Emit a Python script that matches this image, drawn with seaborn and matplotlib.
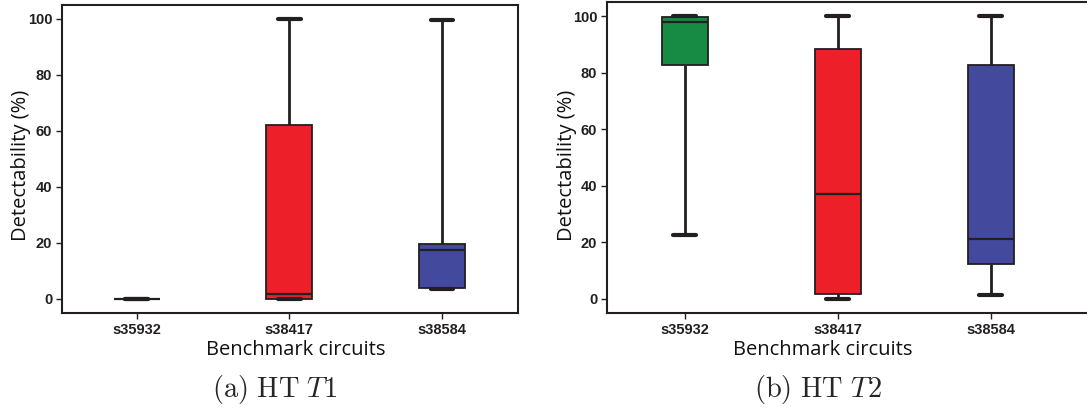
import numpy as np
import pandas as pd
import matplotlib
matplotlib.use("Agg")
import matplotlib.pyplot as plt
import seaborn as sns

circuits = ["s35932", "s38417", "s38584"]
box_colors = ["#178a43", "#ed1f29", "#434a9e"]
y_ticks = [0, 20, 40, 60, 80, 100]

# five-number summaries (min, q1, median, q3, max)
t1_min = [0.0, 0.0, 3.5]
t1_q1 = [0.0, 0.0, 3.8]
t1_med = [0.0, 1.8, 17.5]
t1_q3 = [0.0, 62.0, 19.8]
t1_max = [0.0, 100.0, 99.7]

t2_min = [22.5, 0.0, 1.2]
t2_q1 = [82.6, 1.6, 12.2]
t2_med = [97.8, 37.0, 21.0]
t2_q3 = [99.8, 88.3, 82.7]
t2_max = [100.0, 100.0, 100.0]

DARK = "#231f20"
W, H = 1087, 412


def to_long(mins, q1s, meds, q3s, maxs):
    rows = []
    for c, a, b, m, d, e in zip(circuits, mins, q1s, meds, q3s, maxs):
        for v in (a, b, m, d, e):
            rows.append({"circuit": c, "detectability": v})
    return pd.DataFrame(rows)


sns.set_style("ticks")
plt.rcParams["mathtext.fontset"] = "cm"

fig = plt.figure(figsize=(10.87, 4.12), dpi=100)
ax1 = fig.add_axes([62 / W, 1 - 313 / H, (517.5 - 62) / W, 308 / H])
ax2 = fig.add_axes([607 / W, 1 - 313 / H, (1090 - 607) / W, 311 / H])

panels = [
    (ax1, to_long(t1_min, t1_q1, t1_med, t1_q3, t1_max), (-0.49, 2.495), 296, 21, 275,
     r"$\mathrm{(a)\ HT\ }T1$"),
    (ax2, to_long(t2_min, t2_q1, t2_med, t2_q3, t2_max), (-0.51, 2.65), 823, 567, 818,
     r"$\mathrm{(b)\ HT\ }T2$"),
]

tick_font = {"family": "Liberation Sans", "weight": "bold", "size": 10.5, "color": DARK}
label_font = {"family": "Open Sans", "size": 14.5, "color": "#111111"}

for ax, df, xlim, xlabel_x, ylabel_x, cap_x, caption in panels:
    sns.boxplot(data=df, x="circuit", y="detectability", hue="circuit",
                order=circuits, hue_order=circuits, palette=box_colors,
                whis=(0, 100), width=0.3, dodge=False, legend=False,
                linecolor=DARK, linewidth=1.3, saturation=1, ax=ax,
                whiskerprops={"linewidth": 2.0, "color": DARK},
                capprops={"linewidth": 3.0, "color": DARK},
                medianprops={"linewidth": 1.6, "color": DARK})
    ax.set_ylim(-5, 105)
    ax.set_xlim(*xlim)
    ax.set_yticks(y_ticks, [str(t) for t in y_ticks], **tick_font)
    ax.set_xticks(range(len(circuits)), circuits, **tick_font)
    ax.tick_params(axis="both", length=4, width=1, color=DARK, pad=3)
    ax.set_xlabel("Benchmark circuits", va="center", **label_font)
    ax.set_ylabel("Detectability (%)", va="center", **label_font)
    pos = ax.get_position()
    ax.xaxis.set_label_coords((xlabel_x / W - pos.x0) / pos.width,
                              ((1 - 350 / H) - pos.y0) / pos.height)
    ax.yaxis.set_label_coords((ylabel_x / W - pos.x0) / pos.width,
                              ((1 - 165 / H) - pos.y0) / pos.height)
    for side in ["left", "bottom", "top", "right"]:
        ax.spines[side].set_color(DARK)
        ax.spines[side].set_linewidth(1.5)
    fig.text(cap_x / W, 1 - 390 / H, caption, ha="center", va="center", fontsize=20.5)

ax2.spines["right"].set_visible(False)

fig.savefig("out.png", dpi=100)
